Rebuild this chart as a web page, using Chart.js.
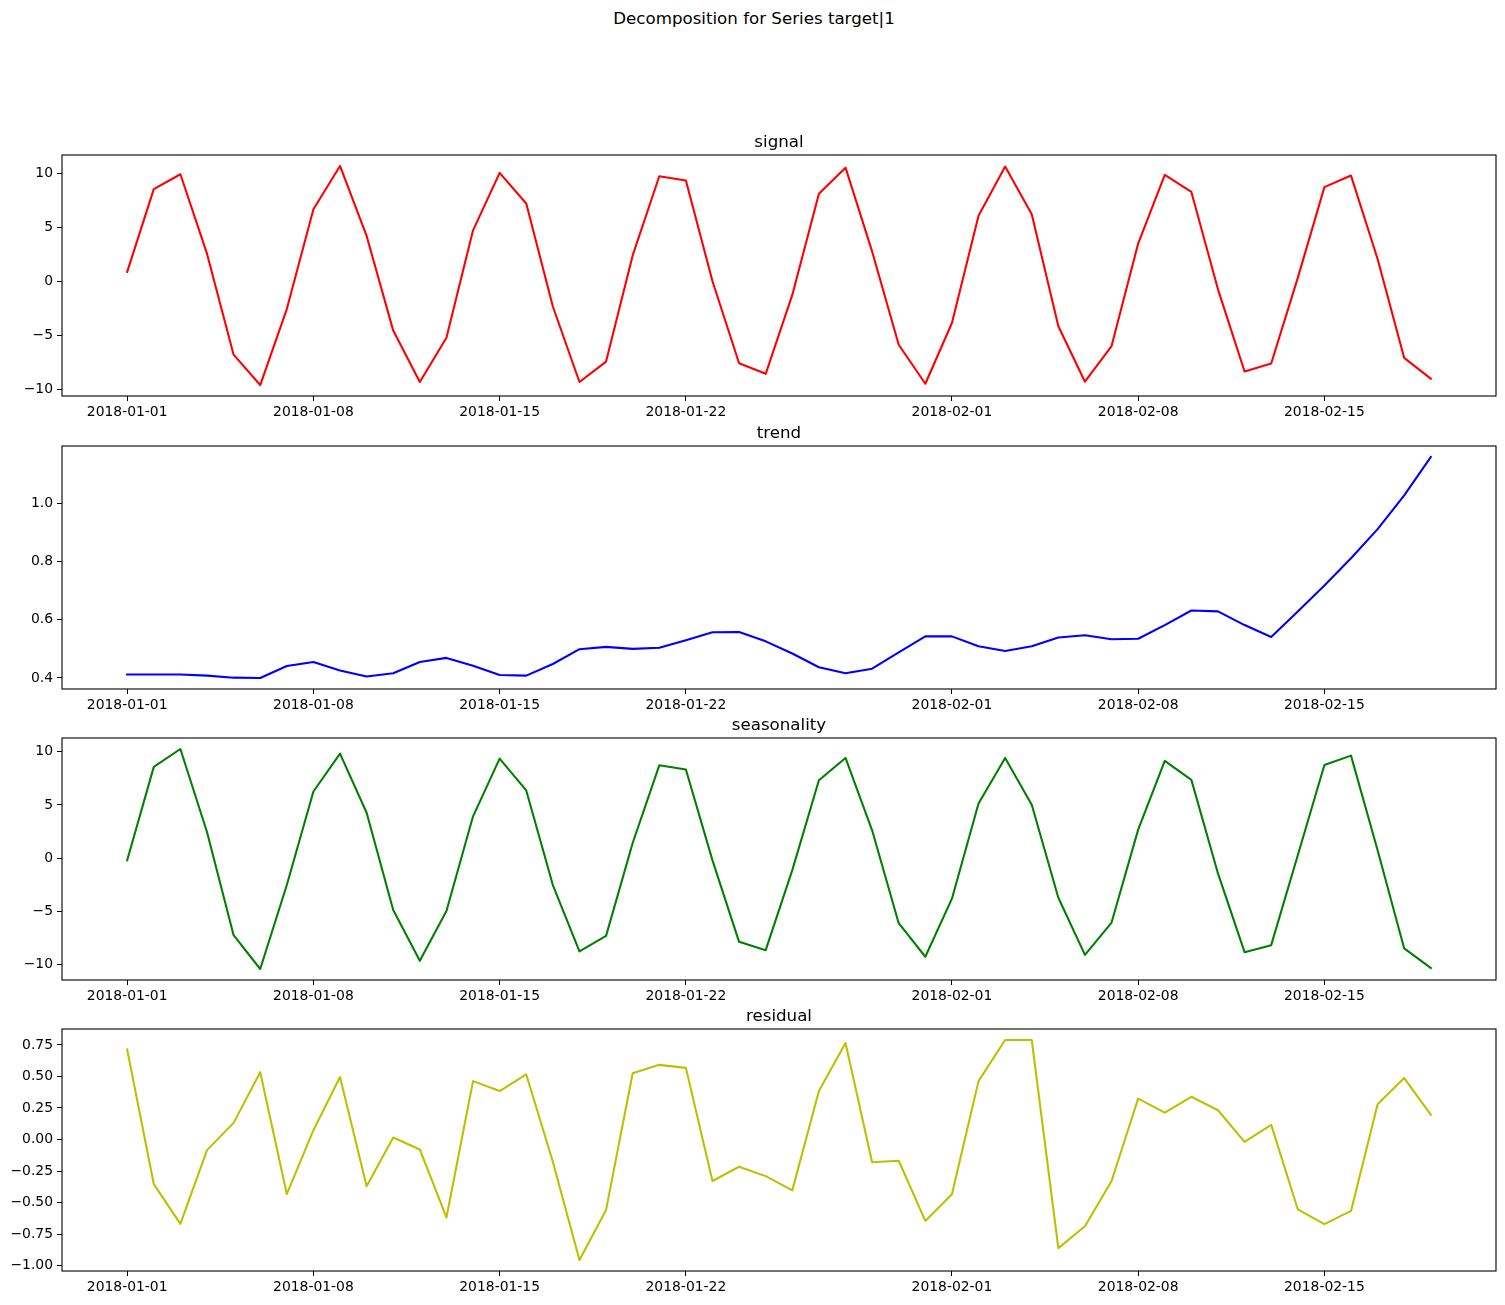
<!DOCTYPE html>
<html>
<head>
<meta charset="utf-8">
<script src="https://cdn.jsdelivr.net/npm/chart.js@4.4.0/dist/chart.umd.min.js"></script>
<style>
  body { margin:0; background:#fff; width:1505px; height:1305px; position:relative; overflow:hidden; font-family:'DejaVu Sans', sans-serif; }
  #suptitle { position:absolute; left:0; top:9px; width:1508px; text-align:center; font-size:16.67px; line-height:20px; color:#000; }
  canvas { position:absolute; left:0; }
</style>
</head>
<body>
<div id="suptitle">Decomposition for Series target|1</div>
<canvas id="c0"></canvas>
<canvas id="c1"></canvas>
<canvas id="c2"></canvas>
<canvas id="c3"></canvas>
<script>
// one value per day, 2018-01-01 .. 2018-02-19
const dates = [
  '2018-01-01','2018-01-02','2018-01-03','2018-01-04','2018-01-05','2018-01-06','2018-01-07','2018-01-08','2018-01-09','2018-01-10',
  '2018-01-11','2018-01-12','2018-01-13','2018-01-14','2018-01-15','2018-01-16','2018-01-17','2018-01-18','2018-01-19','2018-01-20',
  '2018-01-21','2018-01-22','2018-01-23','2018-01-24','2018-01-25','2018-01-26','2018-01-27','2018-01-28','2018-01-29','2018-01-30',
  '2018-01-31','2018-02-01','2018-02-02','2018-02-03','2018-02-04','2018-02-05','2018-02-06','2018-02-07','2018-02-08','2018-02-09',
  '2018-02-10','2018-02-11','2018-02-12','2018-02-13','2018-02-14','2018-02-15','2018-02-16','2018-02-17','2018-02-18','2018-02-19'
];

const signal = [0.92, 8.58, 9.95, 2.6, -6.75, -9.56, -2.53, 6.72, 10.72, 4.24,
  -4.52, -9.28, -5.19, 4.76, 10.08, 7.24, -2.29, -9.28, -7.39, 2.44,
  9.77, 9.37, 0.05, -7.54, -8.52, -1.22, 8.15, 10.56, 2.81, -5.83,
  -9.44, -3.82, 6.11, 10.66, 6.26, -4.12, -9.25, -5.95, 3.54, 9.89,
  8.31, -0.7, -8.31, -7.57, 0.36, 8.76, 9.83, 2.11, -7.05, -8.98];

const trend = [0.412, 0.412, 0.412, 0.408, 0.401, 0.400, 0.441, 0.455, 0.426, 0.405,
  0.416, 0.455, 0.469, 0.442, 0.410, 0.408, 0.448, 0.499, 0.507, 0.500,
  0.504, 0.530, 0.557, 0.558, 0.526, 0.484, 0.437, 0.416, 0.432, 0.488,
  0.543, 0.543, 0.509, 0.493, 0.509, 0.539, 0.547, 0.533, 0.535, 0.582,
  0.632, 0.629, 0.582, 0.541, 0.629, 0.718, 0.812, 0.912, 1.028, 1.160];

const seasonality = [-0.19, 8.57, 10.25, 2.46, -7.23, -10.4, -2.52, 6.26, 9.81, 4.27,
  -4.86, -9.63, -4.95, 3.93, 9.35, 6.36, -2.52, -8.75, -7.29, 1.43,
  8.72, 8.32, -0.2, -7.85, -8.63, -1.12, 7.32, 9.41, 2.62, -6.1,
  -9.25, -3.8, 5.14, 9.41, 5.02, -3.71, -9.07, -6.04, 2.68, 9.13,
  7.35, -1.43, -8.82, -8.16, 0.28, 8.75, 9.63, 0.75, -8.47, -10.3];

const residual = [0.713, -0.353, -0.668, -0.084, 0.132, 0.534, -0.432, 0.074, 0.495, -0.371,
  0.016, -0.079, -0.618, 0.463, 0.384, 0.516, -0.176, -0.955, -0.558, 0.526,
  0.592, 0.568, -0.329, -0.216, -0.29, -0.403, 0.384, 0.766, -0.18, -0.168,
  -0.645, -0.434, 0.463, 0.789, 0.789, -0.861, -0.687, -0.329, 0.324, 0.213,
  0.339, 0.232, -0.018, 0.116, -0.553, -0.671, -0.566, 0.279, 0.487, 0.197];

const xTickDates = ['2018-01-01','2018-01-08','2018-01-15','2018-01-22','2018-02-01','2018-02-08','2018-02-15'];

const signalTicks = [-10, -5, 0, 5, 10];
const signalTickLabels = ['\u221210', '\u22125', '0', '5', '10'];
const trendTicks = [0.4, 0.6, 0.8, 1.0];
const trendTickLabels = ['0.4', '0.6', '0.8', '1.0'];
const seasonTicks = [-10, -5, 0, 5, 10];
const seasonTickLabels = ['\u221210', '\u22125', '0', '5', '10'];
const residTicks = [-1, -0.75, -0.5, -0.25, 0, 0.25, 0.5, 0.75];
const residTickLabels = ['\u22121.00', '\u22120.75', '\u22120.50', '\u22120.25', '0.00', '0.25', '0.50', '0.75'];

const DAY = 86400000;
const t0 = Date.parse(dates[0]);
const dayOf = d => (Date.parse(d) - t0) / DAY;
const xs = dates.map(dayOf);
const xTickDays = xTickDates.map(dayOf);

Chart.defaults.font.family = "'DejaVu Sans', sans-serif";
Chart.defaults.font.size = 13.9;
Chart.defaults.color = '#000';

const frame = {
  id: 'frame',
  afterDraw(chart){
    const { ctx, chartArea:a } = chart;
    ctx.save();
    ctx.strokeStyle = '#000';
    ctx.lineWidth = 1.1;
    ctx.strokeRect(a.left, a.top, a.right - a.left, a.bottom - a.top);
    ctx.restore();
  }
};

function margins(vals){
  const lo = Math.min(...vals), hi = Math.max(...vals), pad = (hi - lo) * 0.05;
  return [lo - pad, hi + pad];
}

const TITLE_H = 24, XAXIS_H = 26, YAXIS_W = 62;

function panel(id, title, values, color, yTicks, yLabels, areaTop, areaBottom){
  const cv = document.getElementById(id);
  cv.width = 1505;
  cv.height = TITLE_H + (areaBottom - areaTop) + XAXIS_H;
  cv.style.top = (areaTop - TITLE_H) + 'px';
  const [ymin, ymax] = margins(values);
  const xspan = xs[xs.length - 1] - xs[0];
  return new Chart(cv, {
    type: 'line',
    data: { datasets: [{
      data: values.map((v, i) => ({ x: xs[i], y: v })),
      borderColor: color, borderWidth: 2.08, pointRadius: 0, tension: 0,
      borderJoinStyle: 'round', borderCapStyle: 'square', fill: false
    }] },
    options: {
      responsive: false, animation: false, maintainAspectRatio: false,
      layout: { padding: { left: 0, right: 9, top: 0, bottom: 0 } },
      plugins: {
        legend: { display: false }, tooltip: { enabled: false },
        title: { display: true, text: title, fullSize: false, color: '#000',
          font: { size: 16.67, weight: 'normal' }, padding: { top: 2, bottom: 2 } }
      },
      scales: {
        x: {
          type: 'linear', min: xs[0] - xspan * 0.05, max: xs[xs.length - 1] + xspan * 0.05,
          afterBuildTicks: s => { s.ticks = xTickDays.map(v => ({ value: v })); },
          afterFit: s => { s.height = XAXIS_H; },
          ticks: { autoSkip: false, maxRotation: 0, padding: 3, callback: (v, i) => xTickDates[i] },
          grid: { drawOnChartArea: false, drawTicks: true, tickLength: 5, color: '#000', lineWidth: 1 },
          border: { display: false }
        },
        y: {
          type: 'linear', min: ymin, max: ymax,
          afterBuildTicks: s => { s.ticks = yTicks.map(v => ({ value: v })); },
          afterFit: s => { s.width = YAXIS_W; },
          ticks: { autoSkip: false, padding: 4, callback: (v, i) => yLabels[i] },
          grid: { drawOnChartArea: false, drawTicks: true, tickLength: 5, color: '#000', lineWidth: 1 },
          border: { display: false }
        }
      }
    },
    plugins: [frame]
  });
}

panel('c0', 'signal', signal, '#ff0000', signalTicks, signalTickLabels, 155, 396);
panel('c1', 'trend', trend, '#0000ff', trendTicks, trendTickLabels, 446, 689);
panel('c2', 'seasonality', seasonality, '#008000', seasonTicks, seasonTickLabels, 738, 980);
panel('c3', 'residual', residual, '#bfbf00', residTicks, residTickLabels, 1029, 1271);
</script>
</body>
</html>
